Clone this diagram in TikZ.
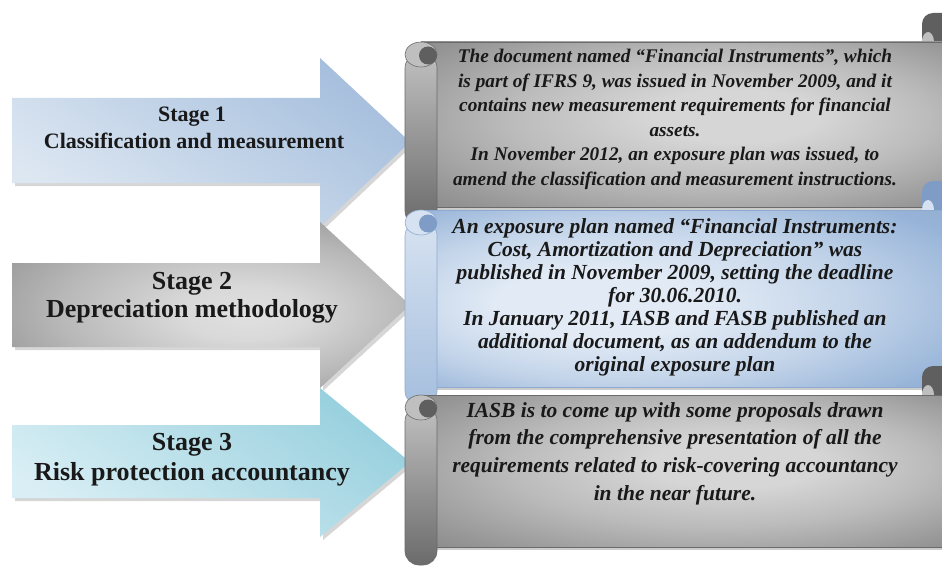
\documentclass[tikz,border=0pt]{standalone}
\usepackage{fontspec}
\setmainfont{Liberation Serif}
\usetikzlibrary{calc}
\definecolor{greyin}{HTML}{D6D6D6}
\definecolor{greyout}{HTML}{7D7D7D}
\definecolor{greydark}{HTML}{5F5F5F}
\definecolor{greyline}{HTML}{6B6B6B}
\definecolor{bluein}{HTML}{E1EAF5}
\definecolor{blueout}{HTML}{97B4D8}
\definecolor{bluedark}{HTML}{7E9CC6}
\definecolor{blueline}{HTML}{8EAAD0}
\definecolor{aonelight}{HTML}{DDE7F2}
\definecolor{aonedark}{HTML}{A6BFDD}
\definecolor{athreelight}{HTML}{DAEFF5}
\definecolor{athreedark}{HTML}{98D0DE}
\pgfdeclareradialshading{greyscroll}{\pgfpoint{6bp}{3bp}}{%
  color(0bp)=(greyin); color(8bp)=(greyin); color(20bp)=(greyin!70!greyout);
  color(32bp)=(greyin!30!greyout); color(50bp)=(greyout!85!black)}
\pgfdeclareradialshading{bluescroll}{\pgfpoint{-10bp}{-2bp}}{%
  color(0bp)=(bluein); color(10bp)=(bluein); color(22bp)=(bluein!60!blueout);
  color(34bp)=(blueout); color(50bp)=(blueout!88!black)}
\pgfdeclareradialshading{greyarrow}{\pgfpoint{5bp}{-3bp}}{%
  color(0bp)=(black!12); color(8bp)=(black!15); color(22bp)=(black!28);
  color(34bp)=(black!42); color(50bp)=(black!55)}
% #1 l, #2 r, #3 T, #4 B, #5 shading, #6 column top, #7 column bottom, #8 dark, #9 line
\newcommand\drawscroll[9]{%
  \fill[#8, rounded corners=11pt] ({#2-22},{#3+6}) rectangle ({#2+12},{#3-29});
  \fill[#6] ({#2-16},{#3}) ellipse[x radius=6, y radius=10];
  \fill[black, opacity=.2] ({#1+18},{#3+2}) rectangle ({#2+2},{#4+3});
  \path[draw=#9, line width=.6pt, shading=#5] ({#1+16},{#3}) rectangle ({#2},{#4});
  \path[draw=#9, line width=.6pt, top color=#6, bottom color=#7, rounded corners=14pt]
     (#1,{#3+12}) -- (#1,{#4+18}) -- ({#1+32},{#4+18}) -- ({#1+32},{#3+12}) -- cycle;
  \path[draw=#9, line width=.6pt, fill=#6] ({#1+16},{#3+12.5}) ellipse[x radius=16, y radius=12.5];
  \fill[#8] ({#1+23},{#3+13.5}) circle[radius=9];
}
\tikzset{
  arrowshadow/.style={fill=black, opacity=.16, shift={(3,3)}},
  stageone/.style={anchor=base, inner sep=0pt, font=\fontsize{22}{26}\selectfont\bfseries, text=black!90},
  stagebig/.style={anchor=base, inner sep=0pt, font=\fontsize{26}{30}\selectfont\bfseries, text=black!90},
  sonetxt/.style={anchor=base, inner sep=0pt, font=\fontsize{19.3}{24}\selectfont\bfseries\itshape, text=black!90},
  stwotxt/.style={anchor=base, inner sep=0pt, font=\fontsize{21.5}{24}\selectfont\bfseries\itshape, text=black!90},
}
\begin{document}
\begin{tikzpicture}[x=1pt,y=-1pt]
\useasboundingbox[fill=white] (0,0) rectangle (942,567);
% arrows
\path[arrowshadow] (12,98) -- (320,98) -- (320,58) -- (410,142) -- (320,227) -- (320,183) -- (12,183) -- cycle;
\path[top color=aonedark, bottom color=aonelight, shading angle=-35]
  (12,98) -- (320,98) -- (320,58) -- (410,142) -- (320,227) -- (320,183) -- (12,183) -- cycle;
\path[arrowshadow] (12,263) -- (320,263) -- (320,222) -- (410,305) -- (320,388) -- (320,347) -- (12,347) -- cycle;
\path[shading=greyarrow]
  (12,263) -- (320,263) -- (320,222) -- (410,305) -- (320,388) -- (320,347) -- (12,347) -- cycle;
\path[arrowshadow] (12,425) -- (320,425) -- (320,388) -- (410,462) -- (320,537) -- (320,498) -- (12,498) -- cycle;
\path[top color=athreedark, bottom color=athreelight, shading angle=-35]
  (12,425) -- (320,425) -- (320,388) -- (410,462) -- (320,537) -- (320,498) -- (12,498) -- cycle;
% stage labels
\node[stageone] (st1a) at (192,122) {Stage 1};
\node[stageone] (st1b) at (194,148) {Classification and measurement};
\node[stagebig] (st2a) at (192,289) {Stage 2};
\node[stagebig] (st2b) at (192,317) {Depreciation methodology};
\node[stagebig] (st3a) at (192,450) {Stage 3};
\node[stagebig] (st3b) at (192,480) {Risk protection accountancy};
% scrolls
\drawscroll{405}{944}{42}{207}{greyscroll}{black!25}{black!58}{greydark}{greyline}
\foreach \t [count=\i] in {{The document named “Financial Instruments”, which},
  {is part of IFRS 9, was issued in November 2009, and it},
  {contains new measurement requirements for financial},
  {assets.},
  {In November 2012, an exposure plan was issued, to},
  {amend the classification  and measurement instructions.}}
  \node[sonetxt] (sa\i) at (675,{63+(\i-1)*24.4}) {\t};
\drawscroll{405}{944}{210}{387}{bluescroll}{bluein!85!blueout}{blueout!80!bluein}{bluedark}{blueline}
\foreach \t [count=\i] in {{An exposure plan named “Financial Instruments:},
  {Cost, Amortization and Depreciation” was},
  {published in November 2009, setting the deadline},
  {for 30.06.2010.},
  {In January 2011, IASB and FASB published an},
  {additional document, as an addendum to the},
  {original exposure plan}}
  \node[stwotxt] (sb\i) at (675,{233+(\i-1)*23.1}) {\t};
\drawscroll{405}{944}{395}{547}{greyscroll}{black!25}{black!58}{greydark}{greyline}
\foreach \t [count=\i] in {{IASB is to come up with some proposals drawn},
  {from the comprehensive presentation of all the},
  {requirements related to risk-covering accountancy},
  {in the near future.}}
  \node[stwotxt] (sc\i) at (675,{417+(\i-1)*27.7}) {\t};
\end{tikzpicture}
\end{document}
